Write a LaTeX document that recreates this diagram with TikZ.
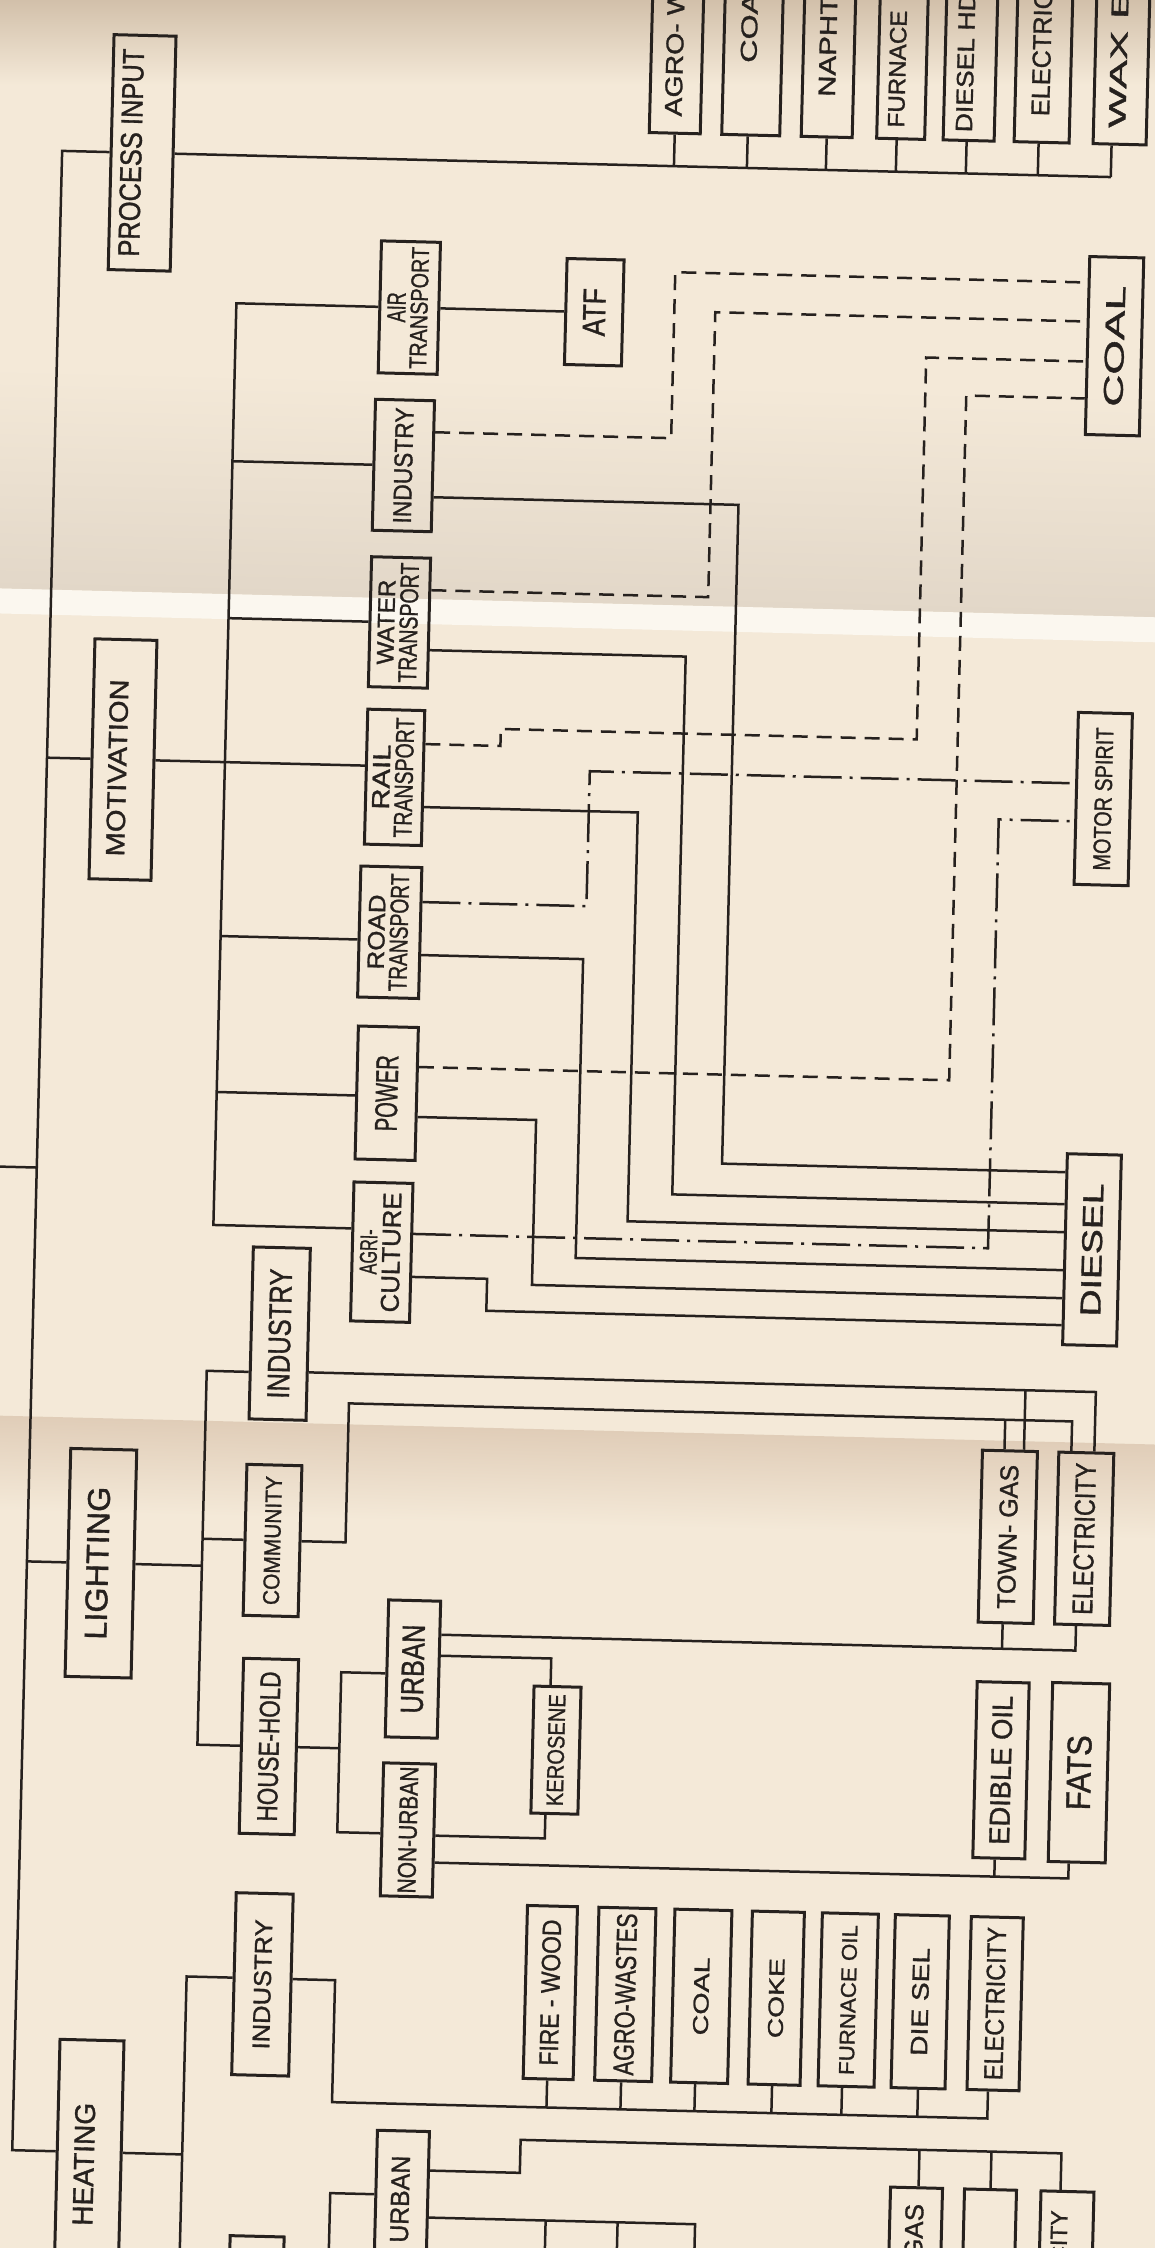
\documentclass[tikz,border=0pt]{standalone}
\usepackage{graphicx}
\usepackage{fontspec}
\setmainfont{Liberation Sans}[FakeBold=1.2]
\usetikzlibrary{calc}
\definecolor{paper}{RGB}{244,233,216}
\definecolor{ink}{RGB}{38,33,30}
\definecolor{foldA}{RGB}{226,215,200}
\definecolor{foldB}{RGB}{224,205,184}
\definecolor{foldL}{RGB}{251,247,239}
\definecolor{topsh}{RGB}{210,192,170}
\newcommand\Lb[3]{\resizebox{#1pt}{#2pt}{#3}}
\newcommand\Tone[3]{\rotatebox{90}{\Lb{#1}{#2}{#3}}}
\newcommand\ToneS[5]{\rotatebox{90}{\raisebox{#4pt}[\height][\depth]{\kern#5pt\Lb{#1}{#2}{#3}\kern-#5pt}}}
\newcommand\Ttwo[6]{\rotatebox{90}{\begin{tabular}{@{}c@{}}\Lb{#1}{#2}{#3}\\[1.5pt]\Lb{#4}{#5}{#6}\end{tabular}}}
\begin{document}
\begin{tikzpicture}[x=1pt,y=-1pt,
  box/.style={draw=ink,line width=3pt,inner sep=0pt,text=ink},
  sz/.style 2 args={minimum width=#1pt,minimum height=#2pt},
  vt/.style={rotate=90,inner sep=0pt,text=ink},
  con/.style={draw=ink,line width=2.5pt},
  dsh/.style={con,dash pattern=on 15pt off 9pt},
  dd/.style={con,dash pattern=on 38pt off 8pt on 3pt off 8pt}]
\path[use as bounding box] (0,0) rectangle (1155,2248);
\fill[paper] (0,0) rectangle (1155,2248);
\clip (0,0) rectangle (1155,2248);
\shade[top color=topsh,bottom color=paper] (0,0) rectangle (1155,85);
\begin{scope}[transform canvas={rotate around={-1.43:(577.5,1124)}}]
\shade[top color=paper,bottom color=foldA] (-120,380) rectangle (1300,603);
\fill[foldL] (-120,603) rectangle (1300,628);
\shade[top color=foldB,bottom color=paper] (-120,1430) rectangle (1300,1525);

% ---------- main column ----------
\node[box,sz={62}{235}] (pi) at (118,164) {\ToneS{208}{21}{PROCESS INPUT}{11}{0}};
\node[box,sz={62}{240}] (mot) at (114,771) {\ToneS{177}{18.5}{MOTIVATION}{5.5}{-8.5}};
\node[box,sz={66}{228}] (light) at (112,1575) {\ToneS{153}{22}{LIGHTING}{3.5}{0}};
\node[box,sz={64}{348}] (heat) at (115,2226) {};
\node[vt,anchor=west] (heatt) at (110,2238) {\Lb{123}{20}{HEATING}};

% ---------- process input fuels (cut at top) ----------
\node[box,sz={51}{202}] (f1) at (650,30) {};
\node[box,sz={58}{202}] (f2) at (726,30) {};
\node[box,sz={51}{202}] (f3) at (802,30) {};
\node[box,sz={48}{202}] (f4) at (876,30) {};
\node[box,sz={51}{202}] (f5) at (944,30) {};
\node[box,sz={55}{202}] (f6) at (1017,30) {};
\node[box,sz={53}{202}] (f7) at (1095,30) {};
\node[vt,anchor=west] (f1t) at (648,114.5) {\Lb{128}{17}{AGRO- W}};
\node[vt,anchor=west] (f2t) at (722,59) {\Lb{70}{16}{COA}};
\node[vt,anchor=west] (f3t) at (801,91) {\Lb{100}{16.5}{NAPHT}};
\node[vt,anchor=west] (f4t) at (871,120) {\Lb{117}{16.5}{FURNACE}};
\node[vt,anchor=west] (f5t) at (939,123) {\Lb{140}{16.5}{DIESEL HD}};
\node[vt,anchor=west] (f6t) at (1015,105) {\Lb{125}{18}{ELECTRIC}};
\node[vt,anchor=west] (f7t) at (1092,115) {\Lb{138}{16.5}{WAX E}};

% ---------- motivation ----------
\node[box,sz={59}{132}] (air) at (389,312) {\Ttwo{30}{18}{AIR}{122}{17}{TRANSPORT}};
\node[box,sz={59}{131}] (mind) at (387,470) {\Tone{116}{18}{INDUSTRY}};
\node[box,sz={59}{130}] (water) at (387,627) {\Ttwo{85}{16.5}{WATER}{120}{18}{TRANSPORT}};
\node[box,sz={57}{135}] (rail) at (386,782) {\Ttwo{65}{17}{RAIL}{120}{18}{TRANSPORT}};
\node[box,sz={61}{131}] (road) at (385,937) {\Ttwo{75}{16.5}{ROAD}{118}{18}{TRANSPORT}};
\node[box,sz={60}{133}] (power) at (386,1098) {\Tone{76}{22}{POWER}};
\node[box,sz={59}{139}] (agri) at (385,1257) {\Ttwo{45}{17}{AGRI-}{120}{18}{CULTURE}};
\node[box,sz={57}{106}] (atf) at (574,312) {\Tone{48}{22}{ATF}};
\node[box,sz={54}{178}] (coal) at (1095,333) {\Tone{121}{19}{COAL}};
\node[box,sz={54}{172}] (motor) at (1095,786) {\Tone{143}{17}{MOTOR SPIRIT}};
\node[box,sz={54}{191}] (diesel) at (1095,1237) {\Tone{133}{20}{DIESEL}};

% ---------- lighting ----------
\node[box,sz={57}{172}] (lind) at (285,1341) {\Tone{130}{22}{INDUSTRY}};
\node[box,sz={55}{151}] (comm) at (283,1548) {\Tone{129}{16}{COMMUNITY}};
\node[box,sz={55}{175}] (hh) at (284.5,1754) {\Tone{150}{20}{HOUSE-HOLD}};
\node[box,sz={52}{137}] (urb) at (426.6,1673) {\Tone{89}{22}{URBAN}};
\node[box,sz={52}{133}] (nurb) at (425.6,1834) {\Tone{127}{18}{NON-URBAN}};
\node[box,sz={47}{127}] (kero) at (571.6,1750.5) {\Tone{112}{16.5}{KEROSENE}};
\node[box,sz={55}{172}] (tgas) at (1018,1526) {\Tone{144}{18}{TOWN- GAS}};
\node[box,sz={55}{172}] (elec) at (1094.4,1526) {\Tone{152}{20}{ELECTRICITY}};
\node[box,sz={52}{176}] (edib) at (1017,1759.5) {\Tone{149}{20}{EDIBLE OIL}};
\node[box,sz={57}{179}] (fats) at (1095,1760) {\Tone{75}{24}{FATS}};

% ---------- heating ----------
\node[box,sz={57}{182}] (hind) at (284,1992) {\Tone{130}{17}{INDUSTRY}};
\node[box,sz={50}{173}] (h1) at (572,1993) {\Tone{146}{18.5}{FIRE - WOOD}};
\node[box,sz={57}{173}] (h2) at (647,1993) {\Tone{162}{20}{AGRO-WASTES}};
\node[box,sz={57}{173}] (h3) at (723,1993) {\Tone{78}{15}{COAL}};
\node[box,sz={52}{173}] (h4) at (798,1993) {\Tone{80}{15}{COKE}};
\node[box,sz={56}{173}] (h5) at (870,1993) {\Tone{150}{15}{FURNACE OIL}};
\node[box,sz={54}{173}] (h6) at (942,1993) {\Tone{108}{16.5}{DIE SEL}};
\node[box,sz={52}{173}] (h7) at (1017,1993) {\Tone{153}{18.5}{ELECTRICITY}};
\node[box,sz={52}{265}] (hurb) at (428.6,2267.5) {};
\node[vt,anchor=west] (hurbt) at (427,2247) {\Lb{87}{18}{URBAN}};
\node[box,sz={52}{221}] (hb1) at (943,2289.5) {};
\node[box,sz={52}{221}] (hb2) at (1017,2289.5) {};
\node[box,sz={53}{221}] (hb3) at (1094,2289.5) {};
\node[vt,anchor=east] (hb1t) at (941.5,2195) {\Lb{55}{18}{GAS}};
\node[vt,anchor=east] (hb3t) at (1086.5,2198) {\Lb{52}{16.5}{CITY}};
\node[box,sz={54}{156}] (hhh) at (285,2322) {};

% ---------- trunk ----------
\coordinate (tr1) at (38,164);
\coordinate (tr2) at (38,2164);
\draw[con] (pi.west) -- (tr1) -- (tr2) -- (tr2 -| heat.west);
\draw[con] (mot.west) -- (mot.west -| tr1);
\draw[con] (light.west) -- (light.west -| tr1);
\coordinate (stub) at (-40,1181);
\draw[con] (stub -| tr1) -- (stub);

% ---------- process input bus ----------
\coordinate (fbE) at (1087,164);
\draw[con] (pi.east) -- (fbE);
\foreach \n/\d in {f1/0,f2/-3,f3/0,f4/-4,f5/-2,f6/-3,f7/-8}{
  \path ($(\n.south)+(\d,0)$) coordinate (tk);
  \draw[con] (tk) -- (tk |- fbE);}

% ---------- motivation bus ----------
\coordinate (mb1) at (216,312);
\coordinate (mb2) at (216,1234);
\draw[con] (air.west) -- (mb1) -- (mb2) -- (mb2 -| agri.west);
\draw[con] (mind.west) -- (mind.west -| mb1);
\draw[con] (water.west) -- (water.west -| mb1);
\path ($(road.west)+(0,8)$) coordinate (rdw);
\draw[con] (rdw) -- (rdw -| mb1);
\path ($(power.west)+(0,3)$) coordinate (pww);
\draw[con] (pww) -- (pww -| mb1);
\draw[con] (mot.east) -- (mot.east -| rail.west);
\draw[con] (air.east) -- (atf.west);

% dashed to COAL
\draw[dsh] ($(mind.east)+(0,-34)$) -| (654,270) -- ($(coal.west)+(0,-63)$);
\draw[dsh] ($(water.east)+(0,-33)$) -| (695,309) -- ($(coal.west)+(0,-24)$);
\draw[dsh] ($(rail.east)+(0,-34)$) -| (491,731) -| (907,349) -- ($(coal.west)+(0,16)$);
\draw[dsh] ($(power.east)+(0,-27)$) -| (948,386) -- ($(coal.west)+(0,53)$);
% dash-dot to MOTOR SPIRIT
\draw[dd] ($(road.east)+(0,-31)$) -| (581,771) -- ($(motor.west)+(0,-15)$);
\draw[dd] ($(agri.east)+(0,-19)$) -| (991,809) -- ($(motor.west)+(0,23)$);
% solid to DIESEL
\draw[con] ($(mind.east)+(0,31)$) -| (723,1160) -- ($(diesel.west)+(0,-77)$);
\draw[con] ($(water.east)+(0,27)$) -| (674,1192) -- ($(diesel.west)+(0,-45)$);
\draw[con] ($(rail.east)+(0,29)$) -| (630,1220) -- ($(diesel.west)+(0,-17)$);
\draw[con] ($(road.east)+(0,22)$) -| (579,1258) -- ($(diesel.west)+(0,21)$);
\draw[con] ($(power.east)+(0,23)$) -| (536,1286) -- ($(diesel.west)+(0,49)$);
\draw[con] ($(agri.east)+(0,24)$) -| (491,1313) -- ($(diesel.west)+(0,76)$);

% ---------- lighting ----------
\coordinate (lb1) at (213,1380);
\coordinate (lb2) at (213,1754);
\path ($(lind.west)+(0,39)$) coordinate (liw);
\draw[con] (liw) -- (lb1) -- (lb2) -- (hh.west);
\draw[con] (comm.west) -- (comm.west -| lb1);
\draw[con] (light.east) -- (light.east -| lb1);
\path ($(lind.east)+(0,38)$) coordinate (lie);
\draw[con] (lie) -| ($(elec.north)+(8,0)$);
\path ($(tgas.north)+(14,0)$) coordinate (tgi);
\draw[con] (tgi) -- (tgi |- lie);
\coordinate (cmY) at (356,1409);
\draw[con] (comm.east) -| (cmY) -| ($(elec.north)+(-15,0)$);
\path ($(tgas.north)+(-5.5,0)$) coordinate (tgc);
\draw[con] (tgc) -- (tgc |- cmY);
\coordinate (hb1c) at (355,1678);
\path ($(urb.west)+(0,5)$) coordinate (uw);
\path ($(nurb.west)+(0,4)$) coordinate (nw);
\draw[con] (hh.east) -- (hh.east -| hb1c);
\draw[con] (uw) -- (uw -| hb1c) -- (nw -| hb1c) -- (nw);
\path ($(urb.east)+(0,-35)$) coordinate (ue1);
\draw[con] (ue1) -| ($(elec.south)+(-6,0)$);
\path ($(tgas.south)+(-3,0)$) coordinate (tgs);
\draw[con] (tgs) -- (tgs |- ue1);
\draw[con] ($(urb.east)+(0,-14)$) -| ($(kero.north)+(-7,0)$);
\draw[con] ($(nurb.east)+(0,5)$) -| ($(kero.south)+(-9,0)$);
\path ($(nurb.east)+(0,32)$) coordinate (ne2);
\draw[con] (ne2) -| ($(fats.south)+(-8,0)$);
\path ($(edib.south)+(-4,0)$) coordinate (eds);
\draw[con] (eds) -- (eds |- ne2);

% ---------- heating ----------
\coordinate (hbus1) at (208,1986);
\coordinate (hbus2) at (208,2330);
\path ($(hind.west)+(0,-6)$) coordinate (hiw);
\draw[con] (hiw) -- (hiw -| hbus1) -- (hbus2);
\draw[con] (tr2 -| heat.east) -- (tr2 -| hbus1);
\path ($(hind.east)+(0,-6)$) coordinate (hie);
\coordinate (hfb) at (356.5,2108);
\draw[con] (hie) -| (hfb) -| ($(h7.south)+(-5,0)$);
\foreach \n/\d in {h1/-1,h2/-2,h3/-4,h4/-2,h5/-4,h6/0}{
  \path ($(\n.south)+(\d,0)$) coordinate (tk);
  \draw[con] (tk) -- (tk |- hfb);}
\coordinate (hs1) at (357,2199);
\coordinate (hs2) at (357,2330);
\draw[con] (hs1 -| hurb.west) -- (hs1) -- (hs2);
\path ($(hurb.east)+(0,-93.5)$) coordinate (hue1);
\coordinate (hrb) at (546,2141);
\draw[con] (hue1) -| (hrb) -| ($(hb3.north)+(-7,0)$);
\foreach \n/\d in {hb1/2,hb2/0}{
  \path ($(\n.north)+(\d,0)$) coordinate (tk);
  \draw[con] (tk) -- (tk |- hrb);}
\path ($(hurb.east)+(0,-46.5)$) coordinate (hue2);
\coordinate (dr1) at (573,2330);
\coordinate (dr2) at (645,2330);
\coordinate (dr3) at (722.5,2330);
\draw[con] (hue2) -| (dr3);
\draw[con] (dr1) -- (dr1 |- hue2);
\draw[con] (dr2) -- (dr2 |- hue2);
\end{scope}
\end{tikzpicture}
\end{document}
